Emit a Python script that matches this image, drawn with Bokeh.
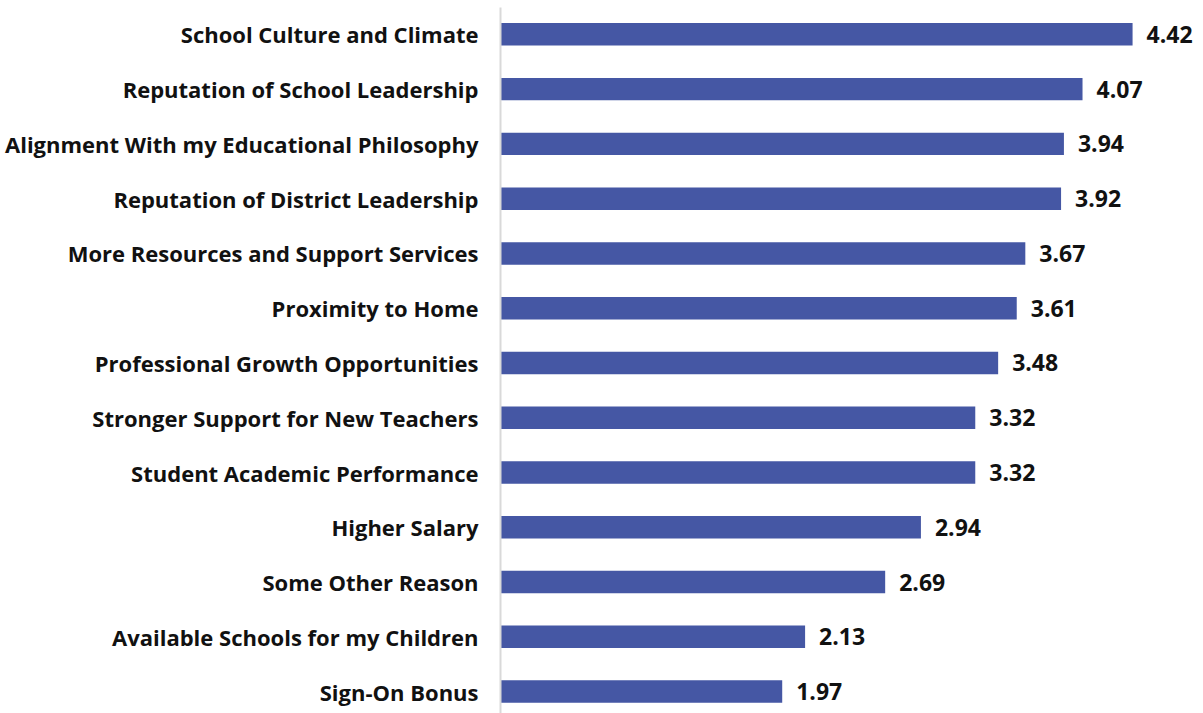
from bokeh.plotting import figure
from bokeh.models import ColumnDataSource, FixedTicker
from bokeh.core.properties import value
from bokeh.embed import file_html
from bokeh.resources import INLINE

categories = [
    "School Culture and Climate",
    "Reputation of School Leadership",
    "Alignment With my Educational Philosophy",
    "Reputation of District Leadership",
    "More Resources and Support Services",
    "Proximity to Home",
    "Professional Growth Opportunities",
    "Stronger Support for New Teachers",
    "Student Academic Performance",
    "Higher Salary",
    "Some Other Reason",
    "Available Schools for my Children",
    "Sign-On Bonus",
]
values = [4.42, 4.07, 3.94, 3.92, 3.67, 3.61, 3.48, 3.32, 3.32, 2.94, 2.69, 2.13, 1.97]

n = len(categories)
ypos = [n - 1 - i for i in range(n)]
labels = ["%.2f" % v for v in values]
src = ColumnDataSource(dict(y=ypos, v=values, lab=labels))

FONT = "Open Sans"

p = figure(width=1203, height=713, output_backend="svg", toolbar_location=None,
           x_range=(0, 4.916), y_range=(-0.4, n - 1 + 0.49),
           min_border_left=500, min_border_right=0, min_border_top=7, min_border_bottom=0,
           x_axis_location=None)
p.outline_line_color = None
p.xgrid.visible = False
p.ygrid.visible = False

p.hbar(y="y", left=0, right="v", height=0.41, source=src, color="#4557A4", line_color=None)
p.text(x="v", y="y", text="lab", source=src, x_offset=14, y_offset=0, text_baseline="middle",
       text_align="left", text_font=value(FONT), text_font_style="bold",
       text_font_size="23px", text_color="#111111")

ax = p.yaxis[0]
ax.ticker = FixedTicker(ticks=ypos)
ax.major_label_overrides = {y: c for y, c in zip(ypos, categories)}
ax.major_label_text_font = FONT
ax.major_label_text_font_style = "bold"
ax.major_label_text_font_size = "22px"
ax.major_label_text_color = "#111111"
ax.major_tick_line_color = None
ax.minor_tick_line_color = None
ax.major_label_standoff = 16
ax.axis_line_color = "#d9d9d9"
ax.axis_line_width = 2

open("out.html", "w").write(file_html(p, INLINE))
